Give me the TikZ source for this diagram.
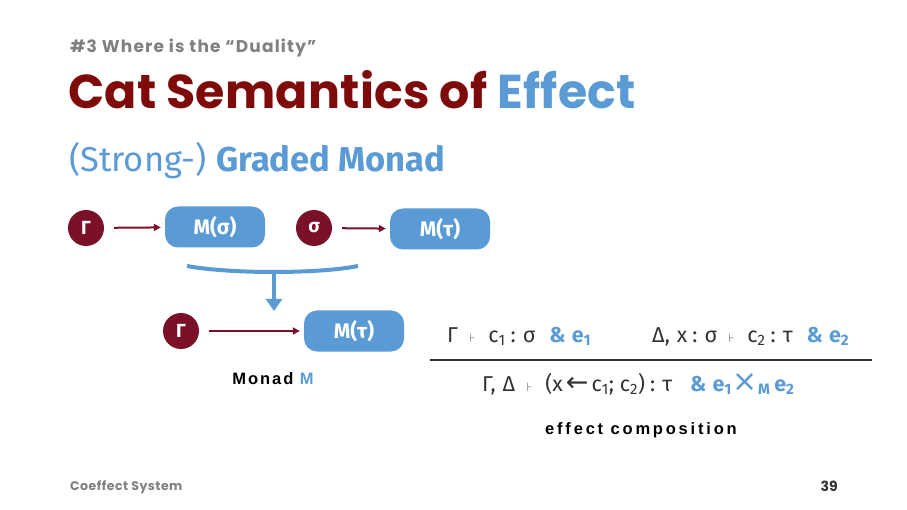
\documentclass[tikz,border=0pt]{standalone}
\usepackage{fontspec}
\setmainfont{Poppins}
\newfontfamily\srcfont{Fira Sans}
\newfontfamily\djv{DejaVu Sans}
\newfontfamily\lsans{Liberation Sans}
\usetikzlibrary{arrows.meta}
\definecolor{dred}{HTML}{7A1128}
\definecolor{tred}{HTML}{7F0A0A}
\definecolor{eblue}{HTML}{5B9BD5}
\definecolor{tgray}{HTML}{808080}
\definecolor{ftxt}{HTML}{333333}
\definecolor{tsgray}{HTML}{888888}
\newcommand{\tstile}{\hspace{11pt}{\djv\fontsize{12}{12}\selectfont\textcolor{tsgray}{⊦}}\hspace{13pt}}
\newcommand{\hascol}{\hspace{5pt}:\hspace{7pt}}
\newcommand{\amp}[1]{\hspace{14pt}\textcolor{eblue}{\bfseries\&\hspace{6pt}#1}}
\begin{document}
\begin{tikzpicture}[x=1pt,y=-1pt,
  circ/.style={circle,fill=dred,text=white,minimum size=36pt,inner sep=0pt,font=\srcfont\bfseries\fontsize{19}{19}\selectfont},
  mbox/.style={rounded corners=13pt,fill=eblue,text=white,minimum width=100pt,minimum height=41pt,inner sep=0pt,font=\srcfont\bfseries\fontsize{21}{21}\selectfont},
  rarr/.style={draw=dred,line width=2pt,shorten <=10pt,shorten >=4pt,-{Triangle[length=7pt,width=7pt]}},
  ftext/.style={font=\srcfont\fontsize{21.5}{21.5}\selectfont,text=ftxt,inner sep=0pt,anchor=base west}
]
\fill[white] (0,0) rectangle (907,510);
\useasboundingbox (0,0) rectangle (907,510);

\node[anchor=base west,inner sep=0pt,text=tgray,font=\fontsize{17}{17}\bfseries\selectfont\addfontfeature{LetterSpace=7}] (hdr) at (70,53) {\#3 Where is the “Duality”};
\node[anchor=base west,inner sep=0pt,text=tred,font=\fontsize{47.5}{47.5}\bfseries\selectfont\addfontfeature{LetterSpace=0.4}] (title) at (68,109) {Cat Semantics of \textcolor{eblue}{Effect}};
\node[anchor=base west,inner sep=0pt,text=eblue,font=\srcfont\fontsize{34.5}{34.5}\selectfont] (sub) at (69,172) {(Strong-) \textbf{Graded Monad}};

\node[circ] (g1) at (86,228) {Γ};
\node[mbox] (ms) at (215,227) {M(σ)};
\node[circ] (s) at (314,228) {σ};
\node[mbox] (mt1) at (440,229) {M(τ)};
\node[circ] (g2) at (181,331) {Γ};
\node[mbox] (mt2) at (354,331) {M(τ)};
\draw[rarr] (g1) -- (ms);
\draw[rarr] (s) -- (mt1);
\draw[rarr] (g2) -- (mt2);

\coordinate (bl) at (187,266);
\coordinate (br) at (358,266);
\coordinate (bm) at (274,273);
\coordinate (bt) at (274,311);
\draw[eblue,line width=4pt] (bl) .. controls (230,274) and (318,274) .. (br);
\draw[eblue,line width=4pt,-{Triangle[length=12pt,width=16pt]}] (bm) -- (bt);

\node[anchor=base,inner sep=0pt,font=\lsans\fontsize{16.5}{16.5}\bfseries\selectfont\addfontfeature{LetterSpace=12}] (mon) at (273,384) {Monad \textcolor{eblue}{M}};

\coordinate (ll) at (430,360);
\coordinate (lr) at (872,360);
\draw[ftxt,line width=1.3pt] (ll) -- (lr);
\node[ftext] (p1) at (447,342) {Γ\tstile c\textsubscript{1}\hascol σ\amp{e\textsubscript{1}}};
\node[ftext] (p2) at (652,342) {Δ,\hspace{7pt}x\hascol σ\tstile c\textsubscript{2}\hascol τ\amp{e\textsubscript{2}}};
\node[ftext] (c) at (482,391) {Γ,\hspace{7pt}Δ\tstile (x\hspace{3pt}{\djv\fontsize{27}{27}\selectfont ←}\hspace{3pt}c\textsubscript{1};\hspace{6pt}c\textsubscript{2})\hascol τ\hspace{4pt}\amp{e\textsubscript{1}\hspace{1pt}{\djv\mdseries\fontsize{30}{30}\selectfont ×}\textsubscript{M}\hspace{4pt}e\textsubscript{2}}};

\node[anchor=base,inner sep=0pt,font=\lsans\fontsize{16.5}{16.5}\bfseries\selectfont\addfontfeature{LetterSpace=17}] (ec) at (641,434) {effect composition};

\node[anchor=base west,inner sep=0pt,text=tgray,font=\fontsize{12.5}{12.5}\bfseries\selectfont\addfontfeature{LetterSpace=4}] (foot) at (70,490) {Coeffect System};
\node[anchor=base east,inner sep=0pt,text=ftxt,font=\fontsize{14}{14}\bfseries\selectfont] (pg) at (838,491) {39};
\end{tikzpicture}
\end{document}
